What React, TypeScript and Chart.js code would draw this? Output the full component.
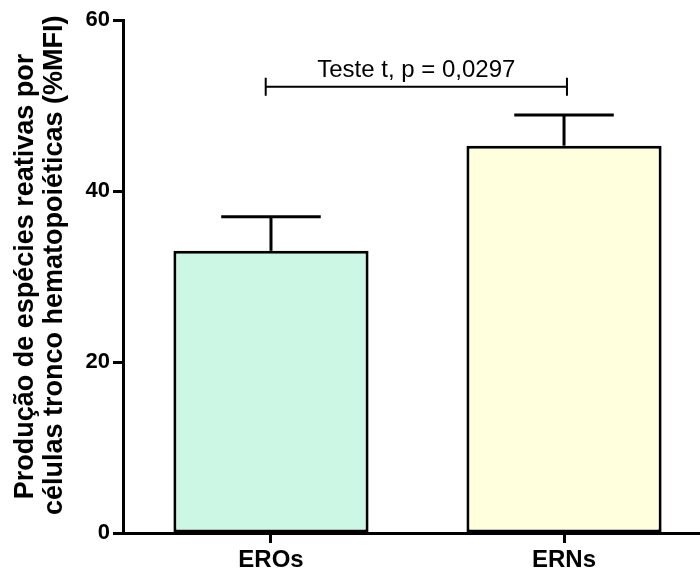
import React, { useEffect, useRef } from "react";
import { Chart, registerables } from "chart.js";

Chart.register(...registerables);

const categories = ["EROs", "ERNs"];
const means = [33.0, 45.3];
const errors = [4.0, 3.6];
const barColors = ["rgb(204,247,229)", "rgb(255,255,221)"];
const yTicks = [0, 20, 40, 60];
const yTitle = ["Produção de espécies reativas por", "   células tronco hematopoiéticas (%MFI)"];
const testLabel = "Teste t, p = 0,0297";
const bracketFrom = -0.018;
const bracketTo = 1.01;
const bracketY = 52.2;

const FONT = "'Liberation Sans', Arial, sans-serif";

const errorBarPlugin = {
  id: "errorBars",
  afterDatasetsDraw(chart: any) {
    const ctx = chart.ctx;
    const meta = chart.getDatasetMeta(0);
    const y = chart.scales.y;
    ctx.save();
    ctx.strokeStyle = "#000";
    ctx.lineWidth = 3;
    meta.data.forEach((bar: any, i: number) => {
      const x = bar.x;
      const w = bar.width;
      const top = y.getPixelForValue(means[i]);
      const cap = y.getPixelForValue(means[i] + errors[i]);
      ctx.beginPath();
      ctx.moveTo(x, top);
      ctx.lineTo(x, cap);
      ctx.stroke();
      ctx.beginPath();
      ctx.moveTo(x - w * 0.255, cap);
      ctx.lineTo(x + w * 0.255, cap);
      ctx.stroke();
    });
    ctx.restore();
  },
};

const bracketPlugin = {
  id: "bracket",
  afterDraw(chart: any) {
    const ctx = chart.ctx;
    const xs = chart.scales.x;
    const ys = chart.scales.y;
    const x1 = xs.getPixelForValue(bracketFrom);
    const x2 = xs.getPixelForValue(bracketTo);
    const yy = ys.getPixelForValue(bracketY);
    ctx.save();
    ctx.strokeStyle = "#000";
    ctx.lineWidth = 2;
    ctx.beginPath();
    ctx.moveTo(x1, yy);
    ctx.lineTo(x2, yy);
    ctx.moveTo(x1, yy - 9);
    ctx.lineTo(x1, yy + 9);
    ctx.moveTo(x2, yy - 9);
    ctx.lineTo(x2, yy + 9);
    ctx.stroke();
    ctx.fillStyle = "#000";
    ctx.font = `24px ${FONT}`;
    ctx.textAlign = "center";
    ctx.textBaseline = "alphabetic";
    ctx.fillText(testLabel, (x1 + x2) / 2, yy - 10);
    ctx.restore();
  },
};

export default function App() {
  const ref = useRef<HTMLCanvasElement | null>(null);

  useEffect(() => {
    if (!ref.current) return;
    const chart = new Chart(ref.current, {
      type: "bar",
      data: {
        datasets: [
          {
            data: means.map((v, i) => ({ x: i, y: v })),
            backgroundColor: barColors,
            borderColor: "#000",
            borderWidth: 3,
            borderSkipped: false,
            categoryPercentage: 1,
            barPercentage: 0.666,
          } as any,
        ],
      },
      options: {
        animation: false,
        responsive: false,
        maintainAspectRatio: false,
        layout: { padding: { top: 20, left: 0, right: 0, bottom: 0 } },
        plugins: {
          legend: { display: false },
          tooltip: { enabled: false },
        },
        scales: {
          x: {
            type: "linear",
            offset: false,
            min: -0.505,
            max: 1.464,
            afterBuildTicks: (s: any) => {
              s.ticks = categories.map((_, i) => ({ value: i }));
            },
            afterFit: (s: any) => {
              s.height = 38;
            },
            grid: {
              display: true,
              offset: false,
              drawOnChartArea: false,
              drawTicks: true,
              tickLength: 10,
              tickWidth: 3,
              tickColor: "#000",
            },
            border: { display: true, color: "#000", width: 3 },
            ticks: {
              autoSkip: false,
              maxRotation: 0,
              padding: 3,
              color: "#000",
              font: { family: FONT, size: 24, weight: "bold" },
              callback: (v: any) => categories[v] ?? "",
            },
          } as any,
          y: {
            type: "linear",
            min: 0,
            max: 60,
            afterBuildTicks: (s: any) => {
              s.ticks = yTicks.map((v) => ({ value: v }));
            },
            afterFit: (s: any) => {
              s.width = 123;
            },
            grid: {
              display: true,
              drawOnChartArea: false,
              drawTicks: true,
              tickLength: 10,
              tickWidth: 3,
              tickColor: "#000",
            },
            border: { display: true, color: "#000", width: 3 },
            ticks: {
              padding: 3,
              color: "#000",
              font: { family: FONT, size: 22, weight: "bold" },
            },
            title: {
              display: true,
              text: yTitle,
              color: "#000",
              font: { family: FONT, size: 27, weight: "bold", lineHeight: 1.08 },
              padding: { top: 11, bottom: 0 },
            },
          } as any,
        },
      },
      plugins: [errorBarPlugin, bracketPlugin],
    });
    return () => chart.destroy();
  }, []);

  return (
    <div style={{ position: "absolute", left: 0, top: 0, width: 700, height: 571, background: "#fff" }}>
      <canvas ref={ref} width={700} height={571} style={{ display: "block" }} />
    </div>
  );
}
